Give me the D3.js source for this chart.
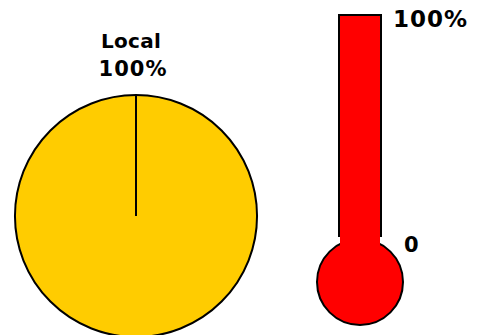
<!DOCTYPE html>
<html><head><meta charset="utf-8">
<script src="https://cdn.jsdelivr.net/npm/d3@7"></script>
<style>body{margin:0;background:#fff}svg{display:block}text{font-family:"DejaVu Sans",sans-serif;font-weight:bold;fill:#000}</style>
</head><body>
<script>
const categories = ["Local"];
const values = [100];
const pieLabels = ["100%"];
const thermoValue = 100;
const thermoTicks = [0, 100];
const thermoTickLabels = ["0", "100%"];

const W = 491, H = 335;
const svg = d3.select("body").append("svg").attr("width", W).attr("height", H);

// Pie
const cx = 136, cy = 216, r = 121;
const pie = d3.pie().sort(null).value(d => d)(values);
const arc = d3.arc().innerRadius(0).outerRadius(r);
const g = svg.append("g").attr("transform", `translate(${cx},${cy})`);
g.selectAll("path.slice").data(pie).join("path").attr("class", "slice")
  .attr("d", arc).attr("fill", "#FFCC00").attr("stroke", "#000").attr("stroke-width", 2);
g.selectAll("line.edge").data(pie).join("line").attr("class", "edge")
  .attr("x1", 0).attr("y1", 0)
  .attr("x2", d => r * Math.sin(d.startAngle)).attr("y2", d => -r * Math.cos(d.startAngle))
  .attr("stroke", "#000").attr("stroke-width", 2);
svg.append("text").attr("x", cx - 5).attr("y", 48).attr("text-anchor", "middle")
  .attr("font-size", 20).attr("letter-spacing", 0.3).text(categories[0]);
svg.append("text").attr("x", cx - 3).attr("y", 76).attr("text-anchor", "middle")
  .attr("font-size", 21).attr("letter-spacing", 1).text(pieLabels[0]);

// Thermometer
const tx = 360, tw = 42, bulbCy = 282, bulbR = 43;
const y = d3.scaleLinear().domain([0, 100]).range([245, 15]);
const t = svg.append("g");
t.append("rect").attr("x", tx - tw / 2).attr("y", y(100)).attr("width", tw).attr("height", 236 - y(100))
  .attr("fill", "#FF0000").attr("stroke", "#000").attr("stroke-width", 2);
t.append("circle").attr("cx", tx).attr("cy", bulbCy).attr("r", bulbR)
  .attr("fill", "#FF0000").attr("stroke", "#000").attr("stroke-width", 2);
t.append("rect").attr("x", tx - tw / 2 + 1).attr("y", y(thermoValue) + 1).attr("width", tw - 2)
  .attr("height", y(0) - y(thermoValue)).attr("fill", "#FF0000");
t.selectAll("text.tick").data(thermoTicks).join("text").attr("class", "tick")
  .attr("x", (d, i) => i === 0 ? 404 : 393)
  .attr("y", d => d === 0 ? 252 : 27)
  .attr("font-size", d => d === 0 ? 21 : 23).attr("letter-spacing", 1)
  .text((d, i) => thermoTickLabels[i]);
</script>
</body></html>
